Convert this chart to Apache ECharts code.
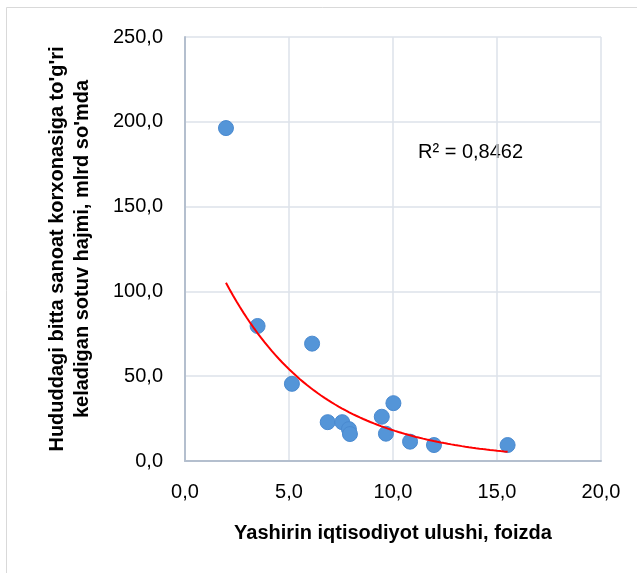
<!DOCTYPE html>
<html>
<head>
<meta charset="utf-8">
<script src="https://cdn.jsdelivr.net/npm/echarts@6/dist/echarts.min.js"></script>
<style>
html,body{margin:0;padding:0;background:#fff;}
#chart{width:637px;height:573px;}
</style>
</head>
<body>
<div id="chart"></div>
<script>
// Data
const shareX = [1.97, 3.49, 6.11, 5.14, 6.86, 7.56, 7.88, 7.93, 9.46, 10.02, 9.66, 10.82, 11.97, 15.51];
const salesY = [196.3, 79.6, 69.2, 45.5, 22.9, 22.9, 18.8, 15.9, 26.1, 34.1, 16.1, 11.4, 9.4, 9.4];
const xTicks = [0, 5, 10, 15, 20];
const yTicks = [0, 50, 100, 150, 200, 250];
const r2Label = 'R² = 0,8462';
const xName = 'Yashirin iqtisodiyot ulushi, foizda';
const yName = "Hududdagi bitta sanoat korxonasiga to'g'ri\nkeladigan sotuv hajmi, mlrd so'mda";

// Exponential trendline (least squares on ln y), as Excel does
function expFit(xs, ys) {
  const n = xs.length;
  const ly = ys.map(Math.log);
  const mx = xs.reduce((a, b) => a + b, 0) / n;
  const my = ly.reduce((a, b) => a + b, 0) / n;
  let sxx = 0, sxy = 0;
  for (let i = 0; i < n; i++) { sxx += (xs[i] - mx) ** 2; sxy += (xs[i] - mx) * (ly[i] - my); }
  const b = sxy / sxx;
  const a = Math.exp(my - b * mx);
  return { a, b };
}
const fit = expFit(shareX, salesY);
const xMin = Math.min(...shareX), xMax = Math.max(...shareX);
const trend = [];
for (let i = 0; i <= 80; i++) {
  const x = xMin + (xMax - xMin) * i / 80;
  trend.push([x, fit.a * Math.exp(fit.b * x)]);
}

const fmt = v => v.toFixed(1).replace('.', ',');
const FONT = 'Liberation Sans';

const chart = echarts.init(document.getElementById('chart'), null, { renderer: 'canvas' });
chart.setOption({
  animation: false,
  backgroundColor: '#ffffff',
  textStyle: { fontFamily: FONT },
  grid: { left: 185, right: 36, top: 37, bottom: 112 },
  xAxis: {
    type: 'value', min: xTicks[0], max: xTicks[xTicks.length - 1], interval: 5,
    axisLine: { show: true, lineStyle: { color: '#b4bfce', width: 2 } },
    axisTick: { show: false },
    axisLabel: { formatter: fmt, color: '#000', fontSize: 20, margin: 21, fontFamily: FONT },
    splitLine: { show: true, lineStyle: { color: '#dde2ea', width: 1.5 } },
    name: xName, nameLocation: 'middle', nameGap: 62,
    nameTextStyle: { color: '#000', fontSize: 20, fontWeight: 'bold', fontFamily: FONT }
  },
  yAxis: {
    type: 'value', min: yTicks[0], max: yTicks[yTicks.length - 1], interval: 50,
    axisLine: { show: true, lineStyle: { color: '#b4bfce', width: 2 } },
    axisTick: { show: false },
    axisLabel: { formatter: fmt, color: '#000', fontSize: 20, margin: 22, fontFamily: FONT },
    splitLine: { show: true, lineStyle: { color: '#dde2ea', width: 1.5 } },
    name: yName, nameLocation: 'middle', nameGap: 90, nameRotate: 90,
    nameTextStyle: { color: '#000', fontSize: 20, fontWeight: 'bold', lineHeight: 25, fontFamily: FONT, align: 'center' }
  },
  graphic: [
    { type: 'rect', shape: { x: 6.5, y: 7.5, width: 700, height: 700 }, style: { fill: 'none', stroke: '#d9d9d9', lineWidth: 1 }, silent: true, z: -10 },
    { type: 'text', left: 418, top: 142, style: { text: r2Label, fill: '#000', font: '20px "Liberation Sans"' } }
  ],
  series: [
    {
      type: 'line', data: trend, showSymbol: false, smooth: false,
      lineStyle: { color: '#ff0000', width: 2 }, z: 3
    },
    {
      type: 'scatter', data: shareX.map((x, i) => [x, salesY[i]]),
      symbol: 'circle', symbolSize: 15,
      itemStyle: { color: '#5495d8', borderColor: '#4a8ad0', borderWidth: 1, opacity: 1 }, z: 2
    }
  ]
});
</script>
</body>
</html>
